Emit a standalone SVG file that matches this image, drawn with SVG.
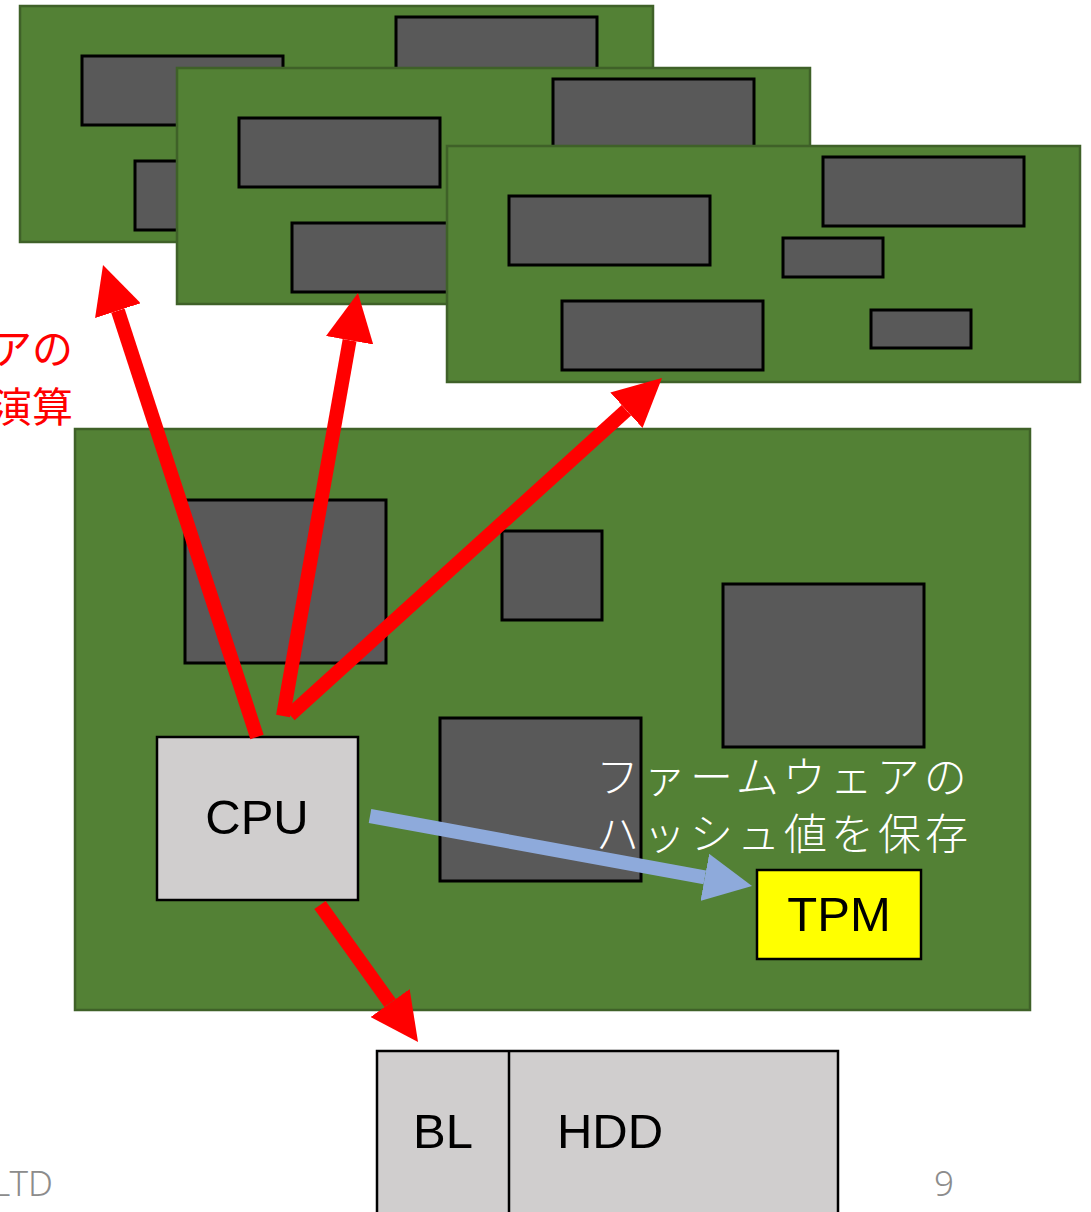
<svg xmlns="http://www.w3.org/2000/svg" width="1091" height="1212" viewBox="0 0 1091 1212">
<style>
.board{fill:#538135;stroke:#3f6128;stroke-width:2.5}
.chip{fill:#595959;stroke:#000;stroke-width:3}
.gray{fill:#d0cece;stroke:#000;stroke-width:2.5}
.lbl{font-family:"Liberation Sans",Arial,sans-serif;font-size:49px;fill:#000;text-anchor:middle}
.jp{font-family:"Noto Sans CJK JP",sans-serif;font-weight:300;font-size:43px;fill:#fff;letter-spacing:4px}
.red{font-family:"Noto Sans CJK JP",sans-serif;font-size:41px;fill:#ff0000;text-anchor:end}
.foot{font-family:"Noto Sans","Liberation Sans",sans-serif;font-size:35px;fill:#8c8c8c;font-weight:300}
.ra{stroke:#ff0000;stroke-width:14;fill:none;marker-end:url(#rh)}
.ba{stroke:#8eaadb;stroke-width:14;fill:none;marker-end:url(#bh)}
</style>
<defs>
<g id="card">
<rect class="board" x="0" y="0" width="633" height="236"/>
<rect class="chip" x="62" y="50" width="201" height="69"/>
<rect class="chip" x="376" y="11" width="201" height="69"/>
<rect class="chip" x="336" y="92" width="100" height="39"/>
<rect class="chip" x="115" y="155" width="201" height="69"/>
<rect class="chip" x="424" y="164" width="100" height="38"/>
</g>
<marker id="rh" viewBox="0 0 48 48" markerWidth="48" markerHeight="48" refX="0" refY="24" orient="auto" markerUnits="userSpaceOnUse"><path d="M0,0 L48,24 L0,48 Z" fill="#ff0000"/></marker>
<marker id="bh" viewBox="0 0 48 48" markerWidth="48" markerHeight="48" refX="0" refY="24" orient="auto" markerUnits="userSpaceOnUse"><path d="M0,0 L48,24 L0,48 Z" fill="#8eaadb"/></marker>
</defs>
<rect width="1091" height="1212" fill="#fff"/>
<g id="card1"><use href="#card" x="20" y="6"/></g>
<g id="card2"><use href="#card" x="177" y="68"/></g>
<g id="card3"><use href="#card" x="447" y="146"/></g>
<g id="mainboard">
<rect class="board" x="75" y="429" width="955" height="581"/>
<rect class="chip" x="185" y="500" width="201" height="163"/>
<rect class="chip" x="502" y="531" width="100" height="89"/>
<rect class="chip" x="723" y="584" width="201" height="163"/>
<rect class="chip" x="440" y="718" width="201" height="163"/>
</g>
<g id="cpu">
<rect class="gray" x="157" y="737" width="201" height="163"/>
<text class="lbl" x="257" y="834">CPU</text>
</g>
<g id="tpm">
<rect x="757" y="870" width="164" height="89" fill="#ffff00" stroke="#000" stroke-width="2.5"/>
<text class="lbl" x="839" y="931">TPM</text>
</g>
<g id="hdd">
<rect class="gray" x="377" y="1051" width="461" height="175"/>
<line x1="509" y1="1051" x2="509" y2="1212" stroke="#000" stroke-width="2.5"/>
<text class="lbl" x="443" y="1148">BL</text>
<text class="lbl" x="610" y="1148">HDD</text>
</g>
<g id="connectors">
<line class="ra" x1="257" y1="737" x2="117.9" y2="310.6"/>
<line class="ra" x1="283" y1="716" x2="349.6" y2="340.3"/>
<line class="ra" x1="290" y1="715" x2="626.4" y2="410.2"/>
<line class="ra" x1="320" y1="905" x2="390.1" y2="1003"/>
<line class="ba" x1="370" y1="816" x2="704.8" y2="877.4"/>
</g>
<g id="labels">
<text class="jp" x="596" y="793">ファームウェアの</text>
<text class="jp" x="596" y="850">ハッシュ値を保存</text>
<text class="red" x="73" y="364">アの</text>
<text class="red" x="73" y="422">演算</text>
<text class="foot" x="53" y="1196" text-anchor="end">LTD</text>
<text class="foot" x="944" y="1196" text-anchor="middle">9</text>
</g>
</svg>
